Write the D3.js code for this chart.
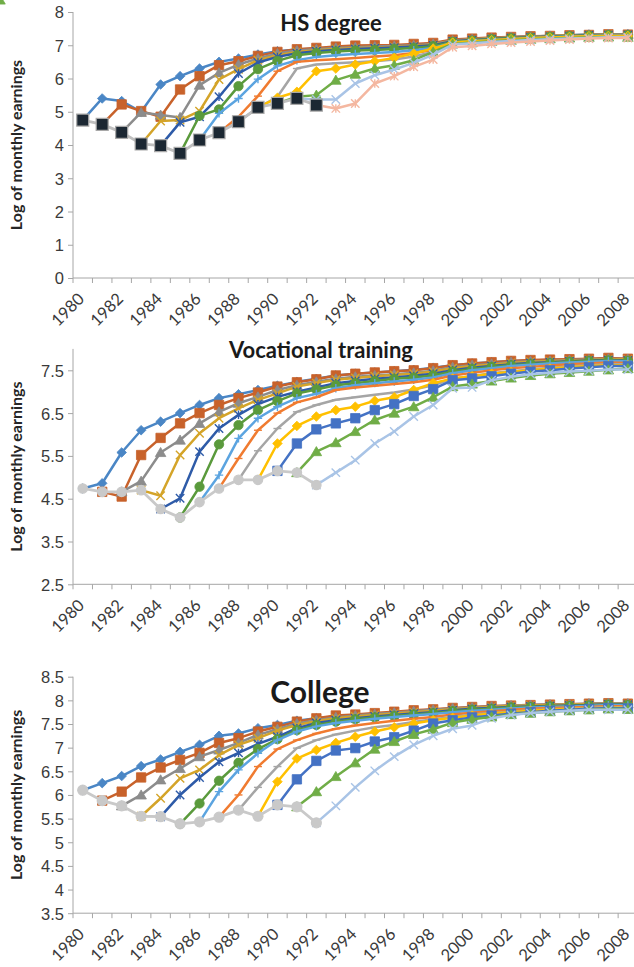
<!DOCTYPE html>
<html>
<head>
<meta charset="utf-8">
<script src="https://cdn.jsdelivr.net/npm/d3@7"></script>
<style>
  body { margin: 0; background: #fff; }
  svg { display: block; font-family: Lato, "Open Sans", sans-serif; }
</style>
</head>
<body>
<svg id="chart" width="634" height="967"></svg>
<script>
// categories
const years = d3.range(1980, 2009)
const tickYears = years.filter(d => d % 2 === 0)

// y tick labels
const hsYTicks = [0, 1, 2, 3, 4, 5, 6, 7, 8]
const vocYTicks = [2.5, 3.5, 4.5, 5.5, 6.5, 7.5]
const colYTicks = [3.5, 4, 4.5, 5, 5.5, 6, 6.5, 7, 7.5, 8, 8.5]

// HS degree: [start year, values...]
const hsSeries = [
  [1980, 4.75, 5.40, 5.32, 5.00, 5.82, 6.07, 6.30, 6.50, 6.60, 6.72, 6.82, 6.87, 6.90, 6.93, 6.95, 6.97, 6.98, 7.01, 7.05, 7.15, 7.18, 7.21, 7.24, 7.26, 7.28, 7.30, 7.32, 7.33, 7.32],
  [1981, 4.62, 5.22, 5.02, 4.85, 5.67, 6.07, 6.40, 6.52, 6.68, 6.80, 6.88, 6.92, 6.96, 6.99, 7.00, 7.01, 7.04, 7.07, 7.17, 7.20, 7.23, 7.25, 7.27, 7.28, 7.30, 7.31, 7.33, 7.32],
  [1982, 4.38, 4.98, 4.90, 4.83, 5.80, 6.17, 6.42, 6.60, 6.75, 6.84, 6.88, 6.92, 6.94, 6.96, 6.98, 7.00, 7.04, 7.14, 7.18, 7.21, 7.24, 7.26, 7.28, 7.30, 7.31, 7.33, 7.33],
  [1983, 4.03, 4.72, 4.75, 5.02, 5.97, 6.28, 6.55, 6.70, 6.80, 6.85, 6.89, 6.91, 6.93, 6.95, 6.98, 7.02, 7.13, 7.17, 7.20, 7.23, 7.25, 7.27, 7.29, 7.30, 7.32, 7.31],
  [1984, 3.98, 4.68, 4.85, 5.45, 6.15, 6.48, 6.65, 6.76, 6.82, 6.86, 6.89, 6.91, 6.93, 6.96, 7.00, 7.12, 7.16, 7.19, 7.22, 7.24, 7.26, 7.28, 7.30, 7.31, 7.31],
  [1985, 3.75, 4.88, 5.07, 5.77, 6.28, 6.53, 6.70, 6.77, 6.81, 6.84, 6.86, 6.89, 6.92, 6.97, 7.10, 7.14, 7.18, 7.21, 7.23, 7.25, 7.27, 7.29, 7.30, 7.30],
  [1986, 4.15, 4.95, 5.40, 5.98, 6.38, 6.55, 6.65, 6.70, 6.74, 6.77, 6.80, 6.85, 6.92, 7.08, 7.12, 7.16, 7.19, 7.22, 7.24, 7.26, 7.28, 7.29, 7.29],
  [1987, 4.37, 4.85, 5.47, 6.22, 6.50, 6.55, 6.58, 6.62, 6.66, 6.70, 6.77, 6.86, 7.06, 7.10, 7.14, 7.18, 7.21, 7.23, 7.25, 7.27, 7.28, 7.28],
  [1988, 4.70, 5.12, 5.45, 6.30, 6.42, 6.46, 6.49, 6.52, 6.57, 6.66, 6.80, 7.05, 7.09, 7.13, 7.17, 7.20, 7.22, 7.24, 7.26, 7.27, 7.27],
  [1989, 5.13, 5.42, 5.60, 6.22, 6.30, 6.42, 6.52, 6.62, 6.75, 6.90, 7.08, 7.12, 7.15, 7.18, 7.21, 7.23, 7.25, 7.27, 7.28, 7.28],
  [1990, 5.25, 5.45, 5.50, 5.95, 6.13, 6.30, 6.40, 6.55, 6.80, 7.04, 7.08, 7.12, 7.15, 7.18, 7.20, 7.22, 7.24, 7.25, 7.24],
  [1991, 5.40, 5.37, 5.37, 5.85, 6.10, 6.27, 6.47, 6.72, 7.02, 7.06, 7.10, 7.13, 7.16, 7.18, 7.20, 7.22, 7.24, 7.24],
  [1992, 5.20, 5.10, 5.25, 5.85, 6.07, 6.35, 6.57, 6.94, 6.98, 7.04, 7.08, 7.11, 7.14, 7.17, 7.20, 7.22, 7.22]
]
const hsBase = [1980, 4.75, 4.62, 4.38, 4.03, 3.98, 3.75, 4.15, 4.37, 4.70, 5.13, 5.25, 5.40, 5.20]

// Vocational training
const vocSeries = [
  [1980, 4.74, 4.86, 5.58, 6.10, 6.30, 6.50, 6.69, 6.85, 6.94, 7.04, 7.14, 7.23, 7.30, 7.38, 7.42, 7.45, 7.48, 7.51, 7.56, 7.62, 7.66, 7.69, 7.72, 7.73, 7.74, 7.75, 7.76, 7.78, 7.76],
  [1981, 4.66, 4.55, 5.52, 5.92, 6.26, 6.50, 6.69, 6.85, 6.98, 7.12, 7.22, 7.29, 7.38, 7.42, 7.45, 7.48, 7.50, 7.55, 7.62, 7.66, 7.69, 7.72, 7.74, 7.75, 7.76, 7.77, 7.79, 7.77],
  [1982, 4.66, 4.91, 5.58, 5.87, 6.26, 6.53, 6.73, 6.88, 7.04, 7.15, 7.23, 7.30, 7.35, 7.38, 7.41, 7.44, 7.49, 7.57, 7.62, 7.65, 7.69, 7.71, 7.72, 7.74, 7.75, 7.77, 7.76],
  [1983, 4.70, 4.57, 5.52, 6.03, 6.38, 6.61, 6.81, 6.96, 7.12, 7.20, 7.28, 7.32, 7.36, 7.39, 7.42, 7.47, 7.55, 7.60, 7.63, 7.67, 7.70, 7.71, 7.73, 7.74, 7.76, 7.75],
  [1984, 4.26, 4.51, 5.60, 6.14, 6.46, 6.71, 6.88, 7.00, 7.10, 7.20, 7.25, 7.30, 7.33, 7.37, 7.42, 7.50, 7.56, 7.60, 7.64, 7.67, 7.69, 7.71, 7.73, 7.74, 7.73],
  [1985, 4.06, 4.78, 5.77, 6.22, 6.57, 6.78, 6.96, 7.05, 7.15, 7.20, 7.25, 7.30, 7.33, 7.38, 7.47, 7.53, 7.58, 7.62, 7.65, 7.67, 7.70, 7.72, 7.73, 7.72],
  [1986, 4.42, 5.05, 5.91, 6.38, 6.65, 6.85, 6.95, 7.08, 7.15, 7.20, 7.24, 7.28, 7.33, 7.43, 7.50, 7.55, 7.60, 7.63, 7.66, 7.68, 7.70, 7.72, 7.71],
  [1987, 4.74, 5.44, 6.10, 6.50, 6.75, 6.87, 7.04, 7.10, 7.14, 7.18, 7.22, 7.28, 7.38, 7.44, 7.50, 7.55, 7.58, 7.61, 7.64, 7.66, 7.68, 7.67],
  [1988, 4.94, 5.62, 6.14, 6.53, 6.69, 6.81, 6.87, 6.93, 6.98, 7.05, 7.15, 7.30, 7.37, 7.43, 7.48, 7.52, 7.56, 7.59, 7.62, 7.64, 7.64],
  [1989, 4.94, 5.79, 6.20, 6.42, 6.57, 6.65, 6.79, 6.87, 7.04, 7.20, 7.31, 7.36, 7.42, 7.46, 7.50, 7.54, 7.57, 7.60, 7.62, 7.62],
  [1990, 5.15, 5.79, 6.12, 6.26, 6.38, 6.57, 6.71, 6.90, 7.06, 7.27, 7.31, 7.36, 7.42, 7.47, 7.50, 7.54, 7.57, 7.60, 7.60],
  [1991, 5.11, 5.60, 5.81, 6.07, 6.34, 6.50, 6.65, 6.87, 7.12, 7.18, 7.25, 7.32, 7.38, 7.42, 7.45, 7.48, 7.51, 7.54, 7.53],
  [1992, 4.82, 5.11, 5.40, 5.79, 6.07, 6.42, 6.69, 7.08, 7.10, 7.27, 7.35, 7.41, 7.44, 7.47, 7.49, 7.52, 7.52]
]
const vocBase = [1980, 4.74, 4.66, 4.66, 4.70, 4.26, 4.06, 4.42, 4.74, 4.94, 4.94, 5.15, 5.11, 4.82]

// College
const colSeries = [
  [1980, 6.10, 6.25, 6.40, 6.61, 6.75, 6.91, 7.06, 7.25, 7.30, 7.41, 7.48, 7.57, 7.62, 7.66, 7.67, 7.70, 7.74, 7.78, 7.80, 7.83, 7.85, 7.87, 7.88, 7.90, 7.90, 7.91, 7.92, 7.94, 7.92],
  [1981, 5.88, 6.07, 6.37, 6.58, 6.74, 6.89, 7.10, 7.20, 7.34, 7.44, 7.55, 7.62, 7.68, 7.70, 7.73, 7.76, 7.79, 7.81, 7.84, 7.86, 7.88, 7.89, 7.90, 7.91, 7.92, 7.93, 7.94, 7.93],
  [1982, 5.77, 6.00, 6.32, 6.56, 6.81, 6.95, 7.10, 7.27, 7.39, 7.51, 7.58, 7.64, 7.68, 7.71, 7.74, 7.77, 7.80, 7.83, 7.85, 7.87, 7.89, 7.90, 7.91, 7.92, 7.93, 7.94, 7.93],
  [1983, 5.55, 5.93, 6.35, 6.53, 6.84, 7.06, 7.20, 7.36, 7.48, 7.56, 7.62, 7.66, 7.69, 7.72, 7.75, 7.78, 7.81, 7.84, 7.86, 7.88, 7.89, 7.90, 7.91, 7.92, 7.93, 7.92],
  [1984, 5.54, 6.00, 6.37, 6.70, 6.89, 7.08, 7.23, 7.41, 7.52, 7.58, 7.62, 7.66, 7.69, 7.72, 7.75, 7.79, 7.82, 7.84, 7.86, 7.87, 7.88, 7.89, 7.90, 7.92, 7.91],
  [1985, 5.39, 5.82, 6.30, 6.68, 6.97, 7.18, 7.37, 7.48, 7.55, 7.60, 7.64, 7.67, 7.70, 7.73, 7.77, 7.80, 7.82, 7.85, 7.86, 7.87, 7.88, 7.89, 7.91, 7.90],
  [1986, 5.43, 6.07, 6.53, 6.88, 7.16, 7.34, 7.45, 7.52, 7.57, 7.61, 7.65, 7.68, 7.71, 7.75, 7.78, 7.80, 7.83, 7.85, 7.86, 7.87, 7.88, 7.90, 7.89],
  [1987, 5.53, 6.00, 6.60, 6.97, 7.16, 7.30, 7.40, 7.47, 7.52, 7.57, 7.61, 7.65, 7.70, 7.74, 7.77, 7.80, 7.82, 7.84, 7.85, 7.86, 7.88, 7.87],
  [1988, 5.68, 6.16, 6.60, 6.99, 7.16, 7.28, 7.36, 7.43, 7.48, 7.54, 7.60, 7.65, 7.70, 7.73, 7.76, 7.79, 7.81, 7.82, 7.84, 7.86, 7.85],
  [1989, 5.55, 6.28, 6.77, 6.95, 7.10, 7.23, 7.34, 7.43, 7.51, 7.58, 7.63, 7.68, 7.72, 7.75, 7.78, 7.80, 7.82, 7.83, 7.85, 7.84],
  [1990, 5.79, 6.33, 6.72, 6.94, 6.99, 7.13, 7.22, 7.36, 7.51, 7.58, 7.64, 7.68, 7.72, 7.75, 7.78, 7.80, 7.82, 7.84, 7.83],
  [1991, 5.75, 6.07, 6.39, 6.68, 6.97, 7.13, 7.28, 7.39, 7.53, 7.60, 7.65, 7.70, 7.73, 7.76, 7.78, 7.80, 7.82, 7.81],
  [1992, 5.41, 5.77, 6.16, 6.51, 6.81, 7.06, 7.25, 7.40, 7.47, 7.62, 7.69, 7.73, 7.76, 7.78, 7.80, 7.80, 7.80]
]
const colBase = [1980, 6.10, 5.88, 5.77, 5.55, 5.54, 5.39, 5.43, 5.53, 5.68, 5.55, 5.79, 5.75, 5.41]

// series looks (Excel-like)
const commonStyles = [
  { color: '#4a86c5', marker: 'diamond' },
  { color: '#c8622b', marker: 'square' },
  { color: '#8c8c8c', marker: 'triangle' },
  { color: '#d4a429', marker: 'x' },
  { color: '#2e5ba8', marker: 'star' },
  { color: '#5a9a3c', marker: 'circle' },
  { color: '#5ba4e0', marker: 'plus' },
  { color: '#f07b30', marker: 'dash' },
  { color: '#a5a5a5', marker: 'dash' },
  { color: '#ffc000', marker: 'diamond' }
]
const vocStyles = commonStyles.concat([
  { color: '#4472c4', marker: 'square' },
  { color: '#70ad47', marker: 'triangle' },
  { color: '#a9c4e6', marker: 'x' }
])
const hsStyles = commonStyles.concat([
  { color: '#70ad47', marker: 'triangle' },
  { color: '#a9c4e6', marker: 'x' },
  { color: '#f4b7a0', marker: 'star' }
])

const panels = [
  { title: 'HS degree', titleSize: 22, titleX: 331, titleY: 31,
    yDomain: [0, 8], yRange: [278, 12], yTicks: hsYTicks,
    series: hsSeries, styles: hsStyles, base: hsBase,
    baseLine: '#bfbfbf', baseFill: '#1c2833', baseStroke: '#a8a8a8', baseMarker: 'bigsquare' },
  { title: 'Vocational training', titleSize: 22, titleX: 321, titleY: 358,
    yDomain: [2.5, 8], yRange: [584.3, 348.9], yTicks: vocYTicks,
    series: vocSeries, styles: vocStyles, base: vocBase,
    baseLine: '#c9c9c9', baseFill: '#c9c9c9', baseStroke: '#c9c9c9', baseMarker: 'circle' },
  { title: 'College', titleSize: 30, titleX: 320, titleY: 703,
    yDomain: [3.5, 8.5], yRange: [913.2, 676.7], yTicks: colYTicks,
    series: colSeries, styles: vocStyles, base: colBase,
    baseLine: '#c9c9c9', baseFill: '#c9c9c9', baseStroke: '#c9c9c9', baseMarker: 'bigcircle' }
]

const svg = d3.select('#chart')
const axisColor = '#a6a6a6'
const textColor = '#3a3a3a'

const x = d3.scaleBand().domain(years).range([73, 637.6])
const xc = d => x(d) + x.bandwidth() / 2

function markerPath(type, r)
{
  switch (type)
  {
    case 'diamond': return `M0,${-r}L${r},0L0,${r}L${-r},0Z`
    case 'square':
    case 'bigsquare': return `M${-r},${-r}H${r}V${r}H${-r}Z`
    case 'triangle': return `M0,${-r * 1.05}L${r * 1.1},${r * 0.85}L${-r * 1.1},${r * 0.85}Z`
    case 'x': return `M${-r},${-r}L${r},${r}M${r},${-r}L${-r},${r}`
    case 'star': return `M${-r},${-r}L${r},${r}M${r},${-r}L${-r},${r}M0,${-r}V${r}`
    case 'plus': return `M${-r},0H${r}M0,${-r}V${r}`
    case 'dash': return `M${-r},0H${r}`
    case 'circle':
    case 'bigcircle': return d3.arc()({ innerRadius: 0, outerRadius: r, startAngle: 0, endAngle: 2 * Math.PI })
  }
}

const markerSize = { diamond: 4.8, square: 4.7, triangle: 4.8, x: 4.2, star: 4.2, plus: 4.2, dash: 4, circle: 4.7, bigcircle: 5, bigsquare: 6 }
const openMarkers = ['x', 'star', 'plus', 'dash']

function toPoints(row)
{
  const start = row[0]
  return row.slice(1).map((v, i) => ({ year: start + i, value: v }))
}

panels.forEach(p =>
{
  const y = d3.scaleLinear().domain(p.yDomain).range(p.yRange)
  const g = svg.append('g')
  const bottom = p.yRange[0]

  // y axis
  const yAxis = g.append('g')
    .attr('transform', 'translate(73,0)')
    .call(d3.axisLeft(y).tickValues(p.yTicks).tickSize(5).tickSizeOuter(0).tickPadding(4).tickFormat(d3.format('')))
  yAxis.select('.domain').attr('stroke', axisColor).attr('d', `M0,${y(p.yDomain[1])}V${bottom}`)
  yAxis.selectAll('.tick line').attr('stroke', axisColor)
  yAxis.selectAll('.tick text')
    .attr('fill', textColor)
    .style('font-size', '16.5px')
    .attr('dy', '0.36em')

  // x axis: tick marks on category boundaries
  const xAxis = g.append('g').attr('transform', `translate(0,${bottom})`)
  xAxis.append('path')
    .attr('d', `M73,0H${x.range()[1]}`)
    .attr('stroke', axisColor)
  xAxis.selectAll('line.bound')
    .data(years.concat([2009]))
    .join('line')
    .attr('class', 'bound')
    .attr('x1', d => d === 2009 ? x.range()[1] : x(d))
    .attr('x2', d => d === 2009 ? x.range()[1] : x(d))
    .attr('y1', 0)
    .attr('y2', 5)
    .attr('stroke', axisColor)
  xAxis.selectAll('text')
    .data(tickYears)
    .join('text')
    .attr('transform', d => `translate(${xc(d) - 1.5},${18}) rotate(-45)`)
    .attr('text-anchor', 'end')
    .attr('dy', '0.35em')
    .attr('fill', textColor)
    .style('font-size', '16.5px')
    .text(d => d)

  // y title
  g.append('text')
    .attr('transform', `translate(22,${(p.yRange[0] + y(p.yDomain[1])) / 2}) rotate(-90)`)
    .attr('text-anchor', 'middle')
    .style('font-size', '16px')
    .style('font-weight', 'bold')
    .attr('fill', '#262626')
    .text('Log of monthly earnings')

  // series
  const line = d3.line().x(d => xc(d.year)).y(d => y(d.value))
  p.series.forEach((row, i) =>
  {
    const st = p.styles[i]
    const pts = toPoints(row)
    const sg = g.append('g')
    sg.append('path')
      .datum(pts)
      .attr('d', line)
      .attr('fill', 'none')
      .attr('stroke', st.color)
      .attr('stroke-width', 2.5)
      .attr('stroke-linejoin', 'round')
    const open = openMarkers.includes(st.marker)
    sg.selectAll('path.m')
      .data(pts)
      .join('path')
      .attr('class', 'm')
      .attr('transform', d => `translate(${xc(d.year)},${y(d.value)})`)
      .attr('d', markerPath(st.marker, markerSize[st.marker]))
      .attr('fill', open ? 'none' : st.color)
      .attr('stroke', st.color)
      .attr('stroke-width', open ? 1.4 : 0.8)
  })

  // base (entry) series on top
  const bpts = toPoints(p.base)
  g.append('path')
    .datum(bpts)
    .attr('d', line)
    .attr('fill', 'none')
    .attr('stroke', p.baseLine)
    .attr('stroke-width', 2.8)
  g.selectAll('path.bm')
    .data(bpts)
    .join('path')
    .attr('class', 'bm')
    .attr('transform', d => `translate(${xc(d.year)},${y(d.value)})`)
    .attr('d', markerPath(p.baseMarker, markerSize[p.baseMarker]))
    .attr('fill', p.baseFill)
    .attr('stroke', p.baseStroke)
    .attr('stroke-width', 1.2)

  // title
  g.append('text')
    .attr('x', p.titleX)
    .attr('y', p.titleY)
    .attr('text-anchor', 'middle')
    .style('font-size', `${p.titleSize}px`)
    .style('font-weight', 'bold')
    .attr('fill', '#1a1a1a')
    .text(p.title)
})
</script>
</body>
</html>
